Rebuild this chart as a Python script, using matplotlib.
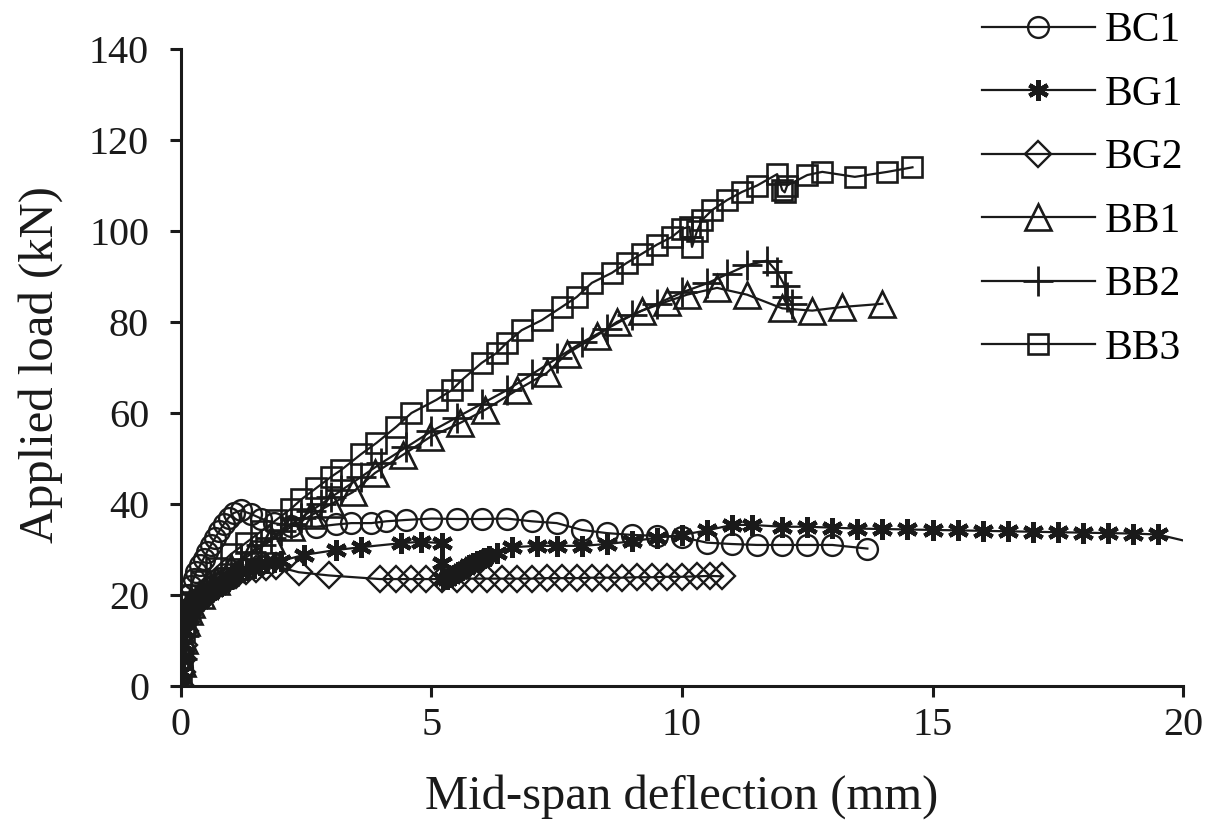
import matplotlib.pyplot as plt

plt.rcParams['font.family'] = ['Liberation Serif', 'DejaVu Serif']

# BC1 (circles)
bc1_x = [0, 0.02, 0.04, 0.06, 0.08, 0.1, 0.15, 0.2, 0.25, 0.3, 0.38, 0.45, 0.52, 0.6, 0.68,
         0.76, 0.85, 0.95, 1.05, 1.2, 1.4, 1.6, 1.85, 2.2, 2.7, 3.1, 3.4, 3.8, 4.1, 4.5, 5.0,
         5.5, 6.0, 6.5, 7.0, 7.5, 8.0, 8.5, 9.0, 9.5, 10.0, 10.5, 11.0, 11.5, 12.0, 12.5,
         13.0, 13.7]
bc1_y = [0, 4, 8, 12, 15, 18, 20, 22, 23.5, 25, 26.5, 28, 29.5, 31, 32.5,
         34, 35.5, 37, 38, 38.6, 37.8, 36.8, 35.8, 35.2, 35.0, 35.5, 35.8, 35.8, 36.2, 36.5, 36.8,
         36.7, 36.7, 36.8, 36.2, 35.8, 34.3, 33.6, 33.2, 33.0, 32.7, 31.5, 31.2, 31.0, 31.0, 31.0,
         31.0, 30.2]

# BG1 (asterisks)
bg1_x = [0, 0.02, 0.04, 0.06, 0.08, 0.1, 0.13, 0.16, 0.2, 0.25, 0.3, 0.35, 0.4, 0.45, 0.5,
         0.57, 0.65, 0.72, 0.8, 0.9, 1.0, 1.1, 1.2, 1.32, 1.45, 1.57, 1.7, 1.85, 2.0, 2.45,
         3.1, 3.6, 4.4, 4.8, 5.2, 5.2, 5.22, 5.3, 5.38, 5.45, 5.52, 5.6, 5.68, 5.75, 5.82,
         5.9, 5.98, 6.05, 6.15, 6.3, 6.6, 7.1, 7.5, 8.0, 8.5, 9.0, 9.5, 10.0, 10.5, 11.0,
         11.4, 12.0, 12.5, 13.0, 13.5, 14.0, 14.5, 15.0, 15.5, 16.0, 16.5, 17.0, 17.5, 18.0,
         18.5, 19.0, 19.5, 20.15]
bg1_y = [0, 3, 6, 9, 12, 14, 15.5, 16.5, 17, 17.6, 18, 18.5, 19, 19.5, 20,
         20.5, 21, 21.5, 22, 22.8, 23.5, 24.2, 25, 25.5, 26, 26.5, 27, 27.2, 27.5, 28.8,
         29.9, 30.5, 31.4, 31.7, 31.4, 27, 23.5, 23.5, 24, 24.5, 25, 25.5, 26, 26.5, 27,
         27.5, 27.8, 28.2, 28.6, 29.2, 30.5, 30.8, 30.8, 30.8, 31.2, 31.8, 32.6, 33.2, 34.2, 35.4,
         35.4, 35.0, 35.0, 34.8, 34.6, 34.5, 34.4, 34.3, 34.2, 34.1, 34.0, 33.9, 33.8, 33.7,
         33.6, 33.5, 33.3, 31.6]

# BG2 (diamonds)
bg2_x = [0, 0.02, 0.04, 0.06, 0.08, 0.1, 0.13, 0.16, 0.2, 0.3, 0.4, 0.5, 0.6, 0.75, 0.9,
         1.1, 1.3, 1.5, 1.7, 1.9, 2.35, 2.95, 3.97, 4.3, 4.6, 4.9, 5.2, 5.5, 5.8, 6.1, 6.4,
         6.7, 7.0, 7.3, 7.6, 7.9, 8.2, 8.5, 8.8, 9.1, 9.4, 9.7, 10.0, 10.3, 10.55, 10.8]
bg2_y = [0, 3, 6, 9, 12, 14, 15.5, 16.5, 17.5, 18.5, 19.5, 20.5, 21.5, 22.5, 23.5,
         24.5, 25.2, 25.8, 26.2, 26.3, 25.0, 24.3, 23.5, 23.5, 23.5, 23.5, 23.5, 23.6, 23.6,
         23.6, 23.6, 23.6, 23.6, 23.7, 23.7, 23.7, 23.8, 23.8, 23.8, 23.9, 23.9, 24.0, 24.0,
         24.1, 24.2, 24.1]

# BB1 (triangles)
bb1_x = [0, 0.03, 0.06, 0.1, 0.15, 0.2, 0.4, 0.7, 1.0, 1.4, 1.8, 2.2, 2.6, 3.0, 3.43,
         3.87, 4.43, 4.97, 5.57, 6.07, 6.7, 7.3, 7.7, 8.3, 8.7, 9.2, 9.7, 10.1, 10.7, 11.3,
         12.0, 12.6, 13.2, 14.0]
bb1_y = [0, 5, 10, 14, 16.5, 18, 20, 23, 26, 29, 32, 35, 37.5, 40, 42.6,
         46.8, 50.8, 54.7, 57.8, 60.7, 65, 68.8, 73, 77, 80, 82.5, 84.5, 86, 87.5, 86,
         83, 82.5, 83.3, 84]

# BB2 (plus)
bb2_x = [0, 0.03, 0.06, 0.1, 0.15, 0.2, 0.35, 0.5, 0.65, 0.8, 1.0, 1.2, 1.4, 1.6, 1.8,
         2.0, 2.2, 2.4, 2.6, 2.8, 3.0, 3.2, 3.6, 4.0, 4.5, 5.0, 5.5, 6.0, 6.5, 7.0, 7.5,
         8.0, 8.5, 9.0, 9.5, 10.0, 10.5, 10.9, 11.3, 11.7, 11.9, 12.05, 12.1, 12.2]
bb2_y = [0, 6, 11, 15, 17, 18.5, 19.8, 21, 22.5, 24, 26, 28, 29.5, 31, 32.5,
         34, 35.5, 37, 38.5, 40, 41.5, 43, 46, 49, 52.5, 56, 59, 62, 65, 68.5, 72,
         75.5, 78.5, 81.5, 84, 86.5, 88.5, 90.5, 92.5, 93.5, 91, 88, 85.5, 84]

# BB3 (squares)
bb3_x = [0, 0.03, 0.06, 0.1, 0.15, 0.2, 0.4, 0.7, 1.0, 1.3, 1.6, 1.9, 2.2, 2.4, 2.7,
         3.0, 3.2, 3.6, 3.9, 4.3, 4.6, 5.1, 5.4, 5.6, 6.0, 6.3, 6.5, 6.8, 7.2, 7.6,
         7.9, 8.2, 8.6, 8.9, 9.2, 9.5, 9.8, 10.0, 10.15, 10.2, 10.3, 10.4, 10.6, 10.9, 11.2,
         11.5, 11.9, 12.0, 12.05, 12.1, 12.5, 12.8, 13.45, 14.1, 14.6]
bb3_y = [0, 6, 12, 16, 18.5, 20, 23, 26, 29, 31.5, 34, 36.5, 39, 41, 43.5,
         46, 47.5, 51, 53.4, 57, 60, 62.9, 65, 67.2, 71, 73.2, 75.4, 78.2, 80.4, 83.3,
         85.5, 88.6, 90.8, 93, 95, 97, 98.7, 100.5, 100.9, 96.5, 100, 102.4, 104.6, 106.8, 108.6,
         110, 112.5, 109, 108.5, 110, 112.3, 113, 111.9, 113, 114]

c = '#1a1a1a'
fig = plt.figure(figsize=(12.09, 8.25), dpi=100)
ax = fig.add_axes([0.1497, 0.1685, 0.8288, 0.7721])

lw = 1.6
ax.plot(bc1_x, bc1_y, color=c, lw=lw, marker='o', ms=15, mfc='none', mew=1.7, label='BC1')
ax.plot(bg1_x, bg1_y, color=c, lw=lw, marker=(6, 2, 0), ms=15, mew=3.2,
        markevery=slice(0, len(bg1_x) - 1), label='BG1')
ax.plot(bg2_x, bg2_y, color=c, lw=lw, marker='D', ms=13, mfc='none', mew=1.7, label='BG2')
ax.plot(bb1_x, bb1_y, color=c, lw=lw, marker='^', ms=19, mfc='none', mew=1.9, label='BB1')
ax.plot(bb2_x, bb2_y, color=c, lw=lw, marker='+', ms=21, mew=2, label='BB2')
ax.plot(bb3_x, bb3_y, color=c, lw=lw, marker='s', ms=14, mfc='none', mew=1.9, label='BB3')

ax.set_xlim(0, 20)
ax.set_ylim(0, 140)
ax.set_xticks([0, 5, 10, 15, 20])
ax.set_yticks(range(0, 141, 20))
for s in ['top', 'right']:
    ax.spines[s].set_visible(False)
for s in ['left', 'bottom']:
    ax.spines[s].set_linewidth(2.2)
    ax.spines[s].set_color(c)
ax.tick_params(direction='out', length=8, width=2.2, labelsize=29, colors=c)
ax.tick_params(axis='y', pad=15)
ax.tick_params(axis='x', pad=7)

fig.text(0.5642, 0.02, 'Mid-span deflection (mm)', fontsize=35, color=c,
         ha='center', va='baseline')
fig.text(0.0438, 0.5576, 'Applied load (kN)', fontsize=35, color=c, rotation=90,
         rotation_mode='anchor', ha='center', va='baseline')

fig.legend(loc='upper left', bbox_to_anchor=(0.8122, 0.9855), frameon=False, fontsize=30,
           handlelength=2.71, handletextpad=0.24, labelspacing=0.6, borderpad=0,
           borderaxespad=0)

fig.savefig('out.png', dpi=100)
